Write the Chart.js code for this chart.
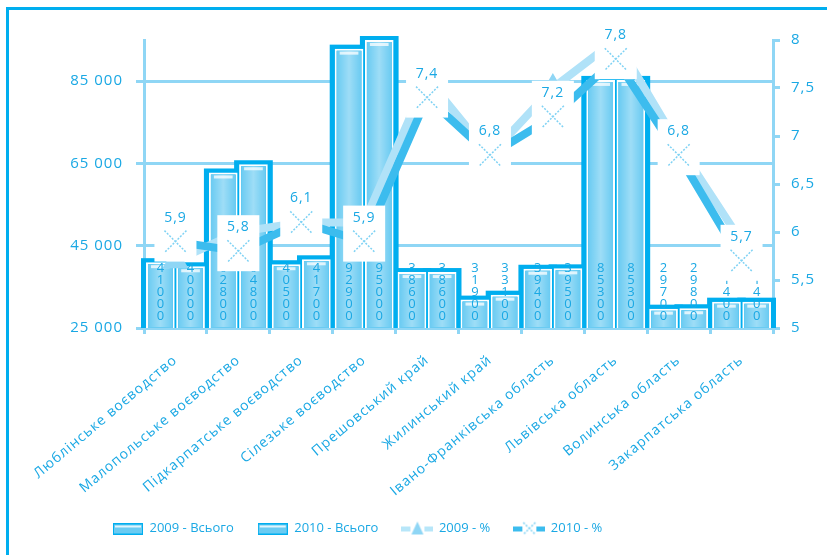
<!DOCTYPE html>
<html>
<head>
<meta charset="utf-8">
<script src="https://cdn.jsdelivr.net/npm/chart.js@4.4.1/dist/chart.umd.min.js"></script>
<style>
  html, body { margin: 0; padding: 0; background: #fff; }
  #frame { position: absolute; left: 6px; top: 7px; width: 821px; height: 548px;
           border-left: 3px solid #00aeef; border-top: 3px solid #00aeef; box-sizing: border-box; }
  #wrap { position: absolute; left: 9px; top: 10px; width: 818px; height: 545px; }
</style>
</head>
<body>
<div id="frame"></div>
<div id="wrap"><canvas id="chart"></canvas></div>
<script>
// дані, зчитані з діаграми
const regions = [
  'Люблінське воєводство', 'Малопольське воєводство', 'Підкарпатське воєводство',
  'Сілезьке воєводство', 'Прешовський край', 'Жилинський край',
  'Івано-Франківська область', 'Львівська область', 'Волинська область', 'Закарпатська область'
];
const total2009 = [41000, 62800, 40500, 92900, 38600, 31900, 39400, 85300, 29700, 31400];
const total2010 = [40000, 64800, 41700, 95000, 38600, 33100, 39500, 85300, 29800, 31400];
const pct2009 = [5.7, 6.0, 6.1, 6.1, 7.6, 6.8, 7.5, 8.0, 6.9, 5.9];
const pct2010 = [5.9, 5.8, 6.1, 5.9, 7.4, 6.8, 7.2, 7.8, 6.8, 5.7];
const leftTicks = [25000, 45000, 65000, 85000];
const seriesNames = ['2009 - Всього', '2010 - Всього', '2009 - %', '2010 - %'];

const BLUE = '#00aeef';
const TEXT = '#1aa8e4';
const AXIS = '#8fd6f5';
const BAR = '#6acbf2';
const FONT = "'Open Sans', sans-serif";
const BOTTOM_PAD = 10;

function makeIcon(w, h, draw) {
  const c = document.createElement('canvas');
  c.width = w; c.height = h;
  draw(c.getContext('2d'), w, h);
  return c;
}
function drawX(ctx, x, y, r) {
  ctx.save();
  ctx.strokeStyle = '#7fd2f4';
  ctx.lineWidth = 1.5;
  ctx.setLineDash([2, 1.5]);
  ctx.beginPath();
  ctx.moveTo(x - r, y - r); ctx.lineTo(x + r, y + r);
  ctx.moveTo(x + r, y - r); ctx.lineTo(x - r, y + r);
  ctx.stroke();
  ctx.restore();
}
const barIcon = makeIcon(30, 12, (c, w, h) => {
  c.fillStyle = BLUE; c.fillRect(0, 0, w, h);
  c.fillStyle = BAR; c.fillRect(1, 2, w - 2, h - 3);
  c.fillStyle = 'rgba(255,255,255,0.8)'; c.fillRect(2, 3, w - 4, 2);
});
const line09Icon = makeIcon(32, 18, (c, w, h) => {
  c.fillStyle = '#b7e6f9'; c.fillRect(0, 7, 9, 5); c.fillRect(23, 7, 9, 5);
  c.fillStyle = '#8fd6f5';
  c.beginPath(); c.moveTo(16, 2); c.lineTo(22, 15); c.lineTo(10, 15); c.closePath(); c.fill();
});
const line10Icon = makeIcon(32, 18, (c, w, h) => {
  c.fillStyle = '#3cbcee'; c.fillRect(0, 7, 9, 5); c.fillRect(23, 7, 9, 5);
  drawX(c, 16, 9, 6);
});
const legendIcons = [barIcon, barIcon, line09Icon, line10Icon];

const fmtThousands = v => String(v).replace(/\B(?=(\d{3})+(?!\d))/g, ' ');
const fmtPct = v => String(v).replace('.', ',');

const decor = {
  id: 'decor',
  beforeLayout(chart) { chart.ctx.letterSpacing = '1px'; },
  beforeDraw(chart) { chart.ctx.letterSpacing = '1px'; },
  beforeDatasetsDraw(chart) {
    const ctx = chart.ctx, bottom = chart.chartArea.bottom;
    ctx.save();
    ctx.fillStyle = BLUE;
    [0, 1].forEach(di => {
      chart.getDatasetMeta(di).data.forEach(bar => {
        const w = bar.width, base = Math.min(bar.base, bottom);
        ctx.fillRect(bar.x - w / 2 - 5, bar.y - 4, w + 10, base - bar.y + 4);
      });
    });
    ctx.restore();
  },
  afterDatasetDraw(chart, args) {
    if (args.index > 1) return;
    const ctx = chart.ctx, bottom = chart.chartArea.bottom;
    ctx.save();
    args.meta.data.forEach(bar => {
      const w = bar.width, left = bar.x - w / 2 + 2, base = Math.min(bar.base, bottom);
      const g = ctx.createLinearGradient(left, 0, left + w - 4, 0);
      g.addColorStop(0, 'rgba(255,255,255,0)');
      g.addColorStop(0.5, 'rgba(255,255,255,0.35)');
      g.addColorStop(1, 'rgba(255,255,255,0)');
      ctx.fillStyle = g;
      ctx.fillRect(left, bar.y + 2, w - 4, base - bar.y - 3);
      ctx.fillStyle = 'rgba(255,255,255,0.75)';
      ctx.fillRect(left + 3, bar.y + 3, w - 10, 3);
    });
    ctx.restore();
  },
  afterDatasetsDraw(chart) {
    const ctx = chart.ctx, bottom = chart.chartArea.bottom;
    ctx.save();
    // вертикальні підписи стовпців
    ctx.font = '13px ' + FONT;
    ctx.letterSpacing = '0px';
    ctx.fillStyle = TEXT;
    ctx.textAlign = 'center';
    ctx.textBaseline = 'middle';
    [0, 1].forEach(di => {
      const vals = chart.data.datasets[di].data;
      chart.getDatasetMeta(di).data.forEach((bar, i) => {
        const s = String(vals[i]);
        const base = Math.min(bar.base, bottom);
        for (let k = 0; k < s.length; k++) {
          ctx.fillText(s[k], bar.x, base - 12 - (s.length - 1 - k) * 12);
        }
      });
    });
    // маркери та підписи 2010 - %
    const pts = chart.getDatasetMeta(3).data;
    const vals = chart.data.datasets[3].data;
    ctx.letterSpacing = '1px';
    ctx.font = '14px ' + FONT;
    pts.forEach((p, i) => {
      ctx.fillStyle = '#fff';
      ctx.fillRect(p.x - 21, p.y - 36, 42, 56);
      drawX(ctx, p.x, p.y, 11);
      ctx.fillStyle = TEXT;
      ctx.fillText(fmtPct(vals[i]), p.x, p.y - 24);
    });
    ctx.restore();
  }
};

const chart = new Chart(document.getElementById('chart'), {
  type: 'bar',
  data: {
    labels: regions,
    datasets: [
      { label: seriesNames[0], data: total2009, yAxisID: 'y', backgroundColor: BAR,
        borderColor: '#ffffff', borderWidth: 2, order: 3,
        categoryPercentage: 0.96, barPercentage: 0.95 },
      { label: seriesNames[1], data: total2010, yAxisID: 'y', backgroundColor: BAR,
        borderColor: '#ffffff', borderWidth: 2, order: 3,
        categoryPercentage: 0.96, barPercentage: 0.95 },
      { type: 'line', label: seriesNames[2], data: pct2009, yAxisID: 'y1', order: 2,
        borderColor: '#b0e2f8', borderWidth: 8, tension: 0,
        pointStyle: 'triangle', pointRadius: 7, pointBackgroundColor: '#9edcf7',
        pointBorderColor: '#8fd6f5' },
      { type: 'line', label: seriesNames[3], data: pct2010, yAxisID: 'y1', order: 1,
        borderColor: '#3cbcee', borderWidth: 8, tension: 0, pointRadius: 0 }
    ]
  },
  options: {
    responsive: true,
    maintainAspectRatio: false,
    animation: false,
    layout: { padding: { top: 30, left: 0, right: 0, bottom: BOTTOM_PAD } },
    scales: {
      x: {
        grid: { drawOnChartArea: false, offset: true, color: AXIS, lineWidth: 3, tickLength: 6 },
        border: { color: AXIS, width: 3 },
        ticks: { color: TEXT, font: { family: FONT, size: 14 }, autoSkip: false,
                 minRotation: 40, maxRotation: 40, padding: 18 },
        afterFit(scale) {
          const c = scale.chart;
          scale.height = c.height - BOTTOM_PAD - 318 - (c.legend ? c.legend.height : 0);
          scale.paddingLeft = 0;
          scale.paddingRight = 0;
        }
      },
      y: {
        position: 'left',
        min: 25000, max: 95000,
        afterBuildTicks(scale) { scale.ticks = leftTicks.map(v => ({ value: v })); },
        grid: { color: AXIS, lineWidth: 3, tickLength: 8 },
        border: { color: AXIS, width: 3 },
        ticks: { color: TEXT, font: { family: FONT, size: 15 }, padding: 13,
                 callback: v => fmtThousands(v) },
        afterFit(scale) { scale.width = 135; }
      },
      y1: {
        position: 'right',
        min: 5, max: 8,
        ticks: { stepSize: 0.5, color: TEXT, font: { family: FONT, size: 15 }, padding: 11,
                 callback: v => fmtPct(v) },
        grid: { drawOnChartArea: false, color: AXIS, lineWidth: 3, tickLength: 7 },
        border: { color: AXIS, width: 3 },
        afterFit(scale) { scale.width = 54; }
      }
    },
    plugins: {
      tooltip: { enabled: false },
      legend: {
        position: 'bottom',
        align: 'start',
        labels: {
          color: TEXT,
          font: { family: FONT, size: 13 },
          usePointStyle: true,
          pointStyleWidth: 30,
          padding: 24,
          generateLabels(chart) {
            const items = Chart.defaults.plugins.legend.labels.generateLabels(chart);
            items.forEach(it => { it.pointStyle = legendIcons[it.datasetIndex]; it.rotation = 0; });
            return items;
          },
          sort: (a, b) => a.datasetIndex - b.datasetIndex
        }
      }
    }
  },
  plugins: [decor]
});

// легенда: вужчий текст і зсув праворуч
const lg = chart.legend;
const origFit = lg.fit.bind(lg), origDraw = lg.draw.bind(lg);
lg.fit = function () {
  const c = chart.ctx, old = c.letterSpacing;
  c.letterSpacing = '0px';
  origFit();
  c.letterSpacing = old;
};
lg.draw = function () {
  const c = chart.ctx, old = c.letterSpacing, left = lg.left;
  c.letterSpacing = '0px';
  lg.left = left + 80;
  origDraw();
  lg.left = left;
  c.letterSpacing = old;
};
chart.update();
</script>
</body>
</html>
